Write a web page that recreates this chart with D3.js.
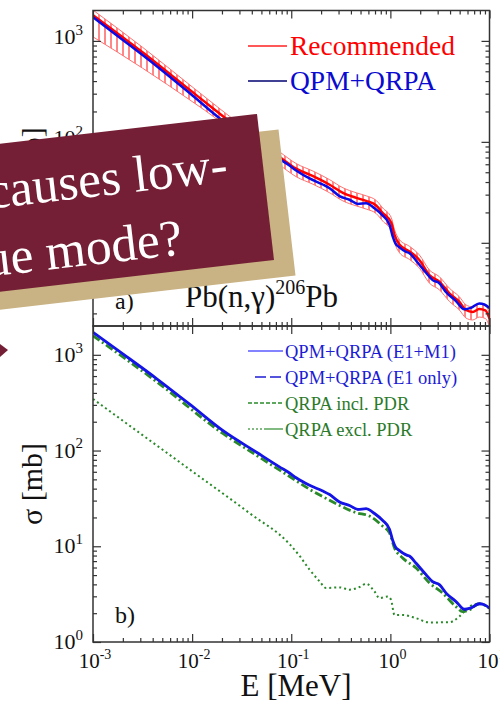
<!DOCTYPE html>
<html>
<head>
<meta charset="utf-8">
<script src="https://cdn.jsdelivr.net/npm/d3@7"></script>
<style>
  body { margin: 0; background: #fff; }
  svg { display: block; }
</style>
</head>
<body>
<div id="chart"></div>
<script>
// ---- data (E in MeV, sigma in mb) ----

// QPM+QRPA (E1+M1), used in both panels
const energyQPM = [0.001, 0.002, 0.0044, 0.0095, 0.020, 0.045, 0.076, 0.096, 0.112, 0.153, 0.208, 0.244,
  0.307, 0.387, 0.470, 0.570, 0.692, 0.838, 0.98, 1.057, 1.125, 1.236, 1.442, 1.556, 1.82, 2.29, 2.67,
  3.12, 3.65, 4.59, 5.57, 6.50, 7.89, 8.87, 10];
const sigmaQPM = [1718, 1023, 562, 303, 164, 95.5, 67.6, 58.3, 52.0, 43.4, 37.8, 34.7,
  29.0, 26.7, 24.3, 24.7, 22.0, 18.6, 15.1, 11.5, 9.86, 9.02, 8.13, 7.91, 6.64, 5.05, 4.27,
  3.98, 3.24, 2.65, 2.20, 2.27, 2.51, 2.45, 2.26];

// QPM+QRPA (E1 only)
const sigmaE1only = [1712, 1019, 560, 302, 163, 95.1, 67.3, 58.0, 51.8, 43.2, 37.6, 34.5,
  28.8, 26.5, 24.1, 24.5, 21.8, 18.4, 14.9, 11.3, 9.75, 8.92, 8.03, 7.82, 6.55, 4.98, 4.21,
  3.93, 3.20, 2.61, 2.17, 2.25, 2.50, 2.45, 2.26];

// QRPA incl. PDR
const energyIncl = [0.001, 0.00437, 0.0204, 0.0447, 0.0964, 0.153, 0.208, 0.307, 0.452, 0.615, 0.838,
  0.98, 1.10, 1.33, 1.82, 2.48, 3.37, 4.59, 5.36, 6.26, 7.89, 10];
const sigmaIncl = [1585, 525, 151, 89, 53.5, 39.4, 33.0, 26.7, 22.4, 20.7, 16.2,
  13.8, 9.62, 7.55, 5.93, 4.13, 3.24, 2.34, 2.08, 2.17, 2.51, 2.26];

// QRPA excl. PDR
const energyExcl = [0.001, 0.00316, 0.01, 0.0381, 0.0964, 0.122, 0.153, 0.193, 0.225, 0.307, 0.387,
  0.489, 0.570, 0.692, 0.776, 0.942, 1.016, 1.099, 1.334, 1.82, 2.48, 3.94, 4.97, 5.79, 6.76, 7.89, 10];
const sigmaExcl = [346, 145, 60.8, 22.1, 10.5, 7.87, 5.70, 4.30, 3.66, 3.72, 3.52,
  3.75, 4.06, 3.37, 2.87, 2.99, 2.76, 1.92, 1.92, 1.77, 1.60, 1.61, 1.85, 2.17, 2.44, 2.51, 2.26];

// Recommended (top panel) with its uncertainty band
const energyRec = [0.001, 0.00316, 0.01, 0.0178, 0.0316, 0.0764, 0.112, 0.166, 0.244, 0.332, 0.453,
  0.570, 0.719, 0.838, 1.02, 1.10, 1.24, 1.56, 1.96, 2.48, 3.12, 3.94, 4.97, 5.79, 6.76, 7.89, 9.08, 10];
const sigmaRec = [1799, 771, 313, 200, 129, 70.8, 54.3, 45.7, 37.6, 31.3, 27.9,
  26.0, 23.4, 19.7, 15.8, 12.0, 9.55, 8.22, 6.76, 4.79, 4.12, 3.16, 2.60, 2.16, 2.07, 2.21, 2.14, 1.78];
const sigmaRecHigh = [2018, 865, 351, 224, 145, 79.4, 61.0, 51.3, 42.2, 35.1, 31.3,
  29.2, 26.3, 22.1, 17.8, 13.5, 10.7, 9.23, 7.59, 5.37, 4.62, 3.55, 2.92, 2.43, 2.32, 2.48, 2.40, 2.00];
const sigmaRecLow = [1096, 537, 251, 168, 107, 58.9, 45.2, 38.0, 31.3, 26.0, 23.2,
  21.6, 19.5, 16.4, 13.2, 10.0, 7.94, 6.84, 5.62, 3.98, 3.43, 2.63, 2.16, 1.80, 1.72, 1.84, 1.78, 1.48];

// axis ticks
const majorX = [1e-3, 1e-2, 1e-1, 1, 10];
const expX = ["-3", "-2", "-1", "0", "1"];
const topMajorY = [10, 100, 1000];
const topExpY = ["1", "2", "3"];
const botMajorY = [1, 10, 100, 1000];
const botExpY = ["0", "1", "2", "3"];

const legendTop = ["Recommended", "QPM+QRPA"];
const legendBot = ["QPM+QRPA (E1+M1)", "QPM+QRPA (E1 only)", "QRPA incl. PDR", "QRPA excl. PDR"];

// ---- layout ----
const W = 500, H = 702;
const serif = "'Liberation Serif', 'Times New Roman', serif";
const left = 93, right = 489.5;
const topY0 = 10.5, midY = 326, botY1 = 642;

const svg = d3.select("#chart").append("svg")
  .attr("width", W)
  .attr("height", H)
  .style("font-family", serif);

const x = d3.scaleLog().domain([1e-3, 10]).range([left, right]);
const yTop = d3.scaleLog().domain([1.5, 2000]).range([midY, topY0]);
const yBot = d3.scaleLog().domain([1, 2000]).range([botY1, midY]);

// minor tick positions (2..9 within each decade)
function minors(lo, hi) {
  const out = [];
  for (let d = Math.floor(Math.log10(lo)); d < Math.ceil(Math.log10(hi)); d++) {
    for (let m = 2; m < 10; m++) {
      const v = m * Math.pow(10, d);
      if (v > lo && v < hi) out.push(v);
    }
  }
  return out;
}

const defs = svg.append("defs");
defs.append("clipPath").attr("id", "clipTop")
  .append("rect").attr("x", left).attr("y", topY0).attr("width", right - left).attr("height", midY - topY0);
defs.append("clipPath").attr("id", "clipBot")
  .append("rect").attr("x", left).attr("y", midY).attr("width", right - left).attr("height", botY1 - midY);

const hatch = defs.append("pattern").attr("id", "hatch")
  .attr("patternUnits", "userSpaceOnUse").attr("width", 6).attr("height", 10);
hatch.append("line").attr("x1", 3).attr("y1", 0).attr("x2", 3).attr("y2", 10)
  .attr("stroke", "#ff1010").attr("stroke-width", 1);

// ticks for one panel
function panelAxes(yScale, yTopPx, yBotPx) {
  const g = svg.append("g");
  const yLo = yScale.domain()[0], yHi = yScale.domain()[1];
  const yMaj = [1, 10, 100, 1000].filter(v => v >= yLo && v <= yHi);
  const yMin = minors(yLo, yHi);
  const xMin = minors(1e-3, 10);

  const add = (axisFn, scale, vals, size, tr) => {
    g.append("g")
      .attr("transform", tr)
      .call(axisFn(scale).tickValues(vals).tickSize(size).tickFormat(""))
      .call(s => s.select(".domain").remove())
      .selectAll("line").attr("stroke", "#333").attr("stroke-width", 1.2);
  };
  add(d3.axisBottom, x, majorX, -8, `translate(0,${yBotPx})`);
  add(d3.axisBottom, x, xMin, -4, `translate(0,${yBotPx})`);
  add(d3.axisTop, x, majorX, -8, `translate(0,${yTopPx})`);
  add(d3.axisTop, x, xMin, -4, `translate(0,${yTopPx})`);
  add(d3.axisLeft, yScale, yMaj, -8, `translate(${left},0)`);
  add(d3.axisLeft, yScale, yMin, -4, `translate(${left},0)`);
  add(d3.axisRight, yScale, yMaj, -8, `translate(${right},0)`);
  add(d3.axisRight, yScale, yMin, -4, `translate(${right},0)`);

  g.append("rect")
    .attr("x", left).attr("y", yTopPx)
    .attr("width", right - left).attr("height", yBotPx - yTopPx)
    .attr("fill", "none").attr("stroke", "#333").attr("stroke-width", 1.5);
}

function powLabel(parent, px, py, exp, size, supSize, anchor) {
  const t = parent.append("text")
    .attr("x", px).attr("y", py)
    .attr("text-anchor", anchor)
    .attr("font-size", size)
    .attr("fill", "#111");
  t.append("tspan").text("10");
  t.append("tspan").attr("dy", -size * 0.42).attr("font-size", supSize).text(exp);
}

const line = (ys) => d3.line()
  .x(d => x(d[0]))
  .y(d => ys(d[1]))
  .curve(d3.curveMonotoneX);

const zip = (a, b) => a.map((v, i) => [v, b[i]]);

// ================= top panel =================
const gTop = svg.append("g").attr("clip-path", "url(#clipTop)");

const bandData = energyRec.map((e, i) => ({ e: e, lo: sigmaRecLow[i], hi: sigmaRecHigh[i] }));
gTop.append("path")
  .datum(bandData)
  .attr("d", d3.area().x(d => x(d.e)).y0(d => yTop(d.lo)).y1(d => yTop(d.hi)).curve(d3.curveMonotoneX))
  .attr("fill", "url(#hatch)");
gTop.append("path")
  .datum(zip(energyRec, sigmaRecHigh))
  .attr("d", line(yTop))
  .attr("fill", "none").attr("stroke", "#ff7070").attr("stroke-width", 1);
gTop.append("path")
  .datum(zip(energyRec, sigmaRecLow))
  .attr("d", line(yTop))
  .attr("fill", "none").attr("stroke", "#ff7070").attr("stroke-width", 1);
gTop.append("path")
  .datum(zip(energyRec, sigmaRec))
  .attr("d", line(yTop))
  .attr("fill", "none").attr("stroke", "#ff0000").attr("stroke-width", 2.5);
gTop.append("path")
  .datum(zip(energyQPM, sigmaQPM))
  .attr("d", line(yTop))
  .attr("fill", "none").attr("stroke", "#0a0ae6").attr("stroke-width", 2.5);

panelAxes(yTop, topY0, midY);

topMajorY.forEach((v, i) => powLabel(svg, 83, yTop(v) + 3, topExpY[i], 22, 15, "end"));

// top legend
const topColors = ["#ff0000", "#0a0ad0"];
const topLineColors = ["#ff2020", "#000070"];
legendTop.forEach((name, i) => {
  const ly = 46 + i * 35;
  svg.append("line")
    .attr("x1", 248).attr("x2", 287).attr("y1", ly).attr("y2", ly)
    .attr("stroke", topLineColors[i]).attr("stroke-width", 1.4);
  svg.append("text")
    .attr("x", 290).attr("y", ly + 9)
    .attr("font-size", 27.5)
    .attr("fill", topColors[i])
    .text(name);
});

svg.append("text")
  .attr("x", 115).attr("y", 309)
  .attr("font-size", 24).attr("fill", "#111")
  .text("a)");

const reac = svg.append("text")
  .attr("x", 185).attr("y", 307)
  .attr("font-size", 31).attr("fill", "#111");
reac.append("tspan").text("Pb(n,γ)");
reac.append("tspan").attr("dy", -13).attr("font-size", 20).text("206");
reac.append("tspan").attr("dy", 13).text("Pb");

svg.append("text")
  .attr("transform", `translate(42,${(topY0 + midY) / 2}) rotate(-90)`)
  .attr("text-anchor", "middle")
  .attr("font-size", 30).attr("fill", "#111")
  .text("σ [mb]");

// ================= bottom panel =================
const gBot = svg.append("g").attr("clip-path", "url(#clipBot)");

gBot.append("path")
  .datum(zip(energyExcl, sigmaExcl))
  .attr("d", line(yBot))
  .attr("fill", "none").attr("stroke", "#2a8a2a").attr("stroke-width", 2)
  .attr("stroke-dasharray", "2,3");
gBot.append("path")
  .datum(zip(energyIncl, sigmaIncl))
  .attr("d", line(yBot))
  .attr("fill", "none").attr("stroke", "#2a8a2a").attr("stroke-width", 2.8)
  .attr("stroke-dasharray", "8,3,2,3");
gBot.append("path")
  .datum(zip(energyQPM, sigmaE1only))
  .attr("d", line(yBot))
  .attr("fill", "none").attr("stroke", "#0000b0").attr("stroke-width", 1.4)
  .attr("stroke-dasharray", "9,4");
gBot.append("path")
  .datum(zip(energyQPM, sigmaQPM))
  .attr("d", line(yBot))
  .attr("fill", "none").attr("stroke", "#1414e6").attr("stroke-width", 2.8);

panelAxes(yBot, midY, botY1);

botMajorY.forEach((v, i) => powLabel(svg, 83, yBot(v) + 7, botExpY[i], 22, 15, "end"));
majorX.forEach((v, i) => powLabel(svg, x(v) + 2, 668, expX[i], 21, 14, "middle"));

// bottom legend
const botText = ["#1c1cd4", "#1c1cd4", "#2a7a2a", "#2a7a2a"];
const botLine = ["#5a5aff", "#1c1cd4", "#2a8a2a", "#5aa55a"];
const botDash = [null, "11,4", "4,2", "2,2,2,2,2,2,2,2,40"];
legendBot.forEach((name, i) => {
  const ly = 351 + i * 26;
  svg.append("line")
    .attr("x1", i === 1 ? 255 : 248).attr("x2", 283).attr("y1", ly).attr("y2", ly)
    .attr("stroke", botLine[i]).attr("stroke-width", 1.5)
    .attr("stroke-dasharray", botDash[i]);
  svg.append("text")
    .attr("x", 285).attr("y", ly + 7)
    .attr("font-size", 18.5)
    .attr("fill", botText[i])
    .text(name);
});

svg.append("text")
  .attr("x", 115).attr("y", 623)
  .attr("font-size", 24).attr("fill", "#111")
  .text("b)");

svg.append("text")
  .attr("transform", `translate(42,${(midY + botY1) / 2}) rotate(-90)`)
  .attr("text-anchor", "middle")
  .attr("font-size", 30).attr("fill", "#111")
  .text("σ [mb]");

svg.append("text")
  .attr("x", 296).attr("y", 696)
  .attr("text-anchor", "middle")
  .attr("font-size", 31).attr("fill", "#111")
  .text("E [MeV]");

// ================= overlay banner =================
const slope = Math.tan(6.6 * Math.PI / 180);
const tr = [257, 114], br = [274, 260];
const farL = -60;
const maroonPts = [
  [farL, tr[1] + (tr[0] - farL) * slope],
  tr,
  br,
  [farL, br[1] + (br[0] - farL) * slope]
];
const shadowOff = [21.5, 15.5];
const shadowPts = maroonPts.map(p => [p[0] + shadowOff[0], p[1] + shadowOff[1]]);
shadowPts.push([farL, shadowPts[3][1] + shadowOff[0] * slope]);
shadowPts.push([farL, shadowPts[0][1] + shadowOff[0] * slope]);
svg.append("polygon")
  .attr("points", shadowPts.map(p => p.join(",")).join(" "))
  .attr("fill", "#c9b283");
svg.append("polygon")
  .attr("points", maroonPts.map(p => p.join(",")).join(" "))
  .attr("fill", "#741f35");

svg.append("text")
  .attr("transform", "translate(229,181) rotate(-6.6)")
  .attr("text-anchor", "end")
  .attr("font-size", 51.5).attr("fill", "#fff")
  .text("What causes low-");
svg.append("text")
  .attr("transform", "translate(184,254) rotate(-6.6)")
  .attr("text-anchor", "end")
  .attr("font-size", 51.5).attr("fill", "#fff")
  .text("unique mode?");

// small arrow tip at left edge
svg.append("polygon")
  .attr("points", "0,344 8,350 0,357")
  .attr("fill", "#741f35");
</script>
</body>
</html>
